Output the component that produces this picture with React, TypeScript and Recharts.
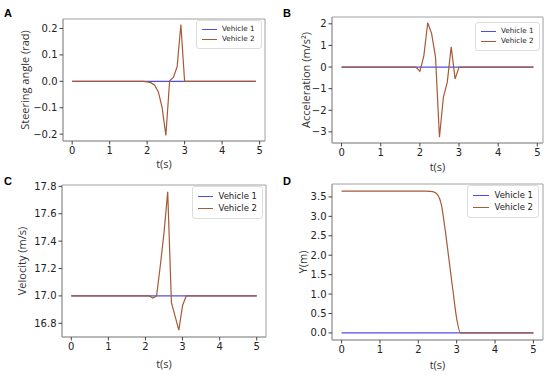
import { LineChart, Line, XAxis, YAxis, ReferenceArea, Legend } from "recharts";

const V1_COLOR = "#4f4fe6";
const V2_COLOR = "#a65a36";
const BOX_COLOR = "#a0a0a0";

// Panel A: steering angle (rad)
const tA = [0, 1.9, 2.0, 2.1, 2.2, 2.3, 2.4, 2.5, 2.6, 2.7, 2.8, 2.9, 3.0, 4.9];
const steerV1 = [0, 0, 0, 0, 0, 0, 0, 0, 0, 0, 0, 0, 0, 0];
const steerV2 = [0, 0, -0.002, -0.005, -0.015, -0.04, -0.1, -0.205, 0.002, 0.015, 0.055, 0.215, 0, 0];

// Panel B: acceleration (m/s²)
const tB = [0, 1.9, 2.0, 2.1, 2.2, 2.3, 2.4, 2.5, 2.6, 2.7, 2.8, 2.9, 3.0, 4.9];
const accV1 = [0, 0, 0, 0, 0, 0, 0, 0, 0, 0, 0, 0, 0, 0];
const accV2 = [0, 0, -0.2, 0.5, 2.05, 1.55, 0.45, -3.25, -1.4, -0.7, 0.93, -0.55, 0, 0];

// Panel C: velocity (m/s)
const tC = [0, 2.1, 2.2, 2.3, 2.4, 2.5, 2.6, 2.7, 2.8, 2.9, 3.0, 3.1, 5.0];
const velV1 = [17, 17, 17, 17, 17, 17, 17, 17, 17, 17, 17, 17, 17];
const velV2 = [17, 17, 16.985, 17.0, 17.22, 17.46, 17.76, 16.95, 16.85, 16.75, 16.93, 17.0, 17.0];

// Panel D: lateral position Y (m)
const tD = [0, 2.2, 2.3, 2.4, 2.5, 2.6, 2.7, 2.8, 2.9, 3.0, 3.1, 5.0];
const yV1 = [0, 0, 0, 0, 0, 0, 0, 0, 0, 0, 0, 0];
const yV2 = [3.65, 3.65, 3.645, 3.63, 3.56, 3.3, 2.65, 1.88, 1.11, 0.37, 0, 0];

const xTicks = [0, 1, 2, 3, 4, 5];

const rows = (t: number[], a: number[], b: number[]) =>
  t.map((x, i) => ({ t: x, v1: a[i], v2: b[i] }));

const fmt1 = (v: number) => (v < 0 ? "\u2212" : "") + Math.abs(v).toFixed(1);
const fmt0 = (v: number) => (v < 0 ? "\u2212" : "") + Math.abs(v).toFixed(0);

const tickStyle = { fontSize: 10, fill: "#222", fontFamily: "DejaVu Sans" };
const labelStyle = { fontSize: 11, fill: "#333", fontFamily: "Open Sans" };

function VehicleLegend({ fontSize, lineLen }: { fontSize: number; lineLen: number }) {
  return (
    <div
      style={{
        border: "1px solid #ddd",
        borderRadius: 3,
        background: "#fff",
        padding: "3px 5px",
        fontFamily: "DejaVu Sans",
        fontSize,
        color: "#222",
        whiteSpace: "nowrap",
        lineHeight: `${fontSize * 1.45}px`,
      }}
    >
      {[
        ["Vehicle 1", V1_COLOR],
        ["Vehicle 2", V2_COLOR],
      ].map(([name, c]) => (
        <div key={name} style={{ display: "flex", alignItems: "center" }}>
          <span style={{ display: "inline-block", width: lineLen, height: 0, borderTop: `1.3px solid ${c}`, marginRight: 5 }} />
          {name}
        </div>
      ))}
    </div>
  );
}

interface PanelProps {
  letter: string;
  left: number;
  top: number;
  width: number;
  height: number;
  plotLeft: number;
  plotTop: number;
  plotRight: number;
  plotBottom: number;
  data: { t: number; v1: number; v2: number }[];
  xDomain: [number, number];
  yDomain: [number, number];
  yTicks: number[];
  yFmt: (v: number) => string;
  yLabel: string;
  yLabelDx: number;
  xLabelOffset: number;
  legend: { left: number; top: number; width: number; fontSize: number; lineLen: number };
  curve?: "linear" | "monotoneX";
  letterPos: { x: number; y: number };
}

function Panel(p: PanelProps) {
  return (
    <div style={{ position: "absolute", left: p.left, top: p.top, width: p.width, height: p.height }}>
      <LineChart
        width={p.width}
        height={p.height}
        data={p.data}
        margin={{ top: p.plotTop, right: p.width - p.plotRight, bottom: 0, left: 0 }}
      >
        <XAxis
          dataKey="t"
          type="number"
          domain={p.xDomain}
          ticks={xTicks}
          allowDataOverflow
          height={p.height - p.plotBottom}
          tick={tickStyle}
          tickSize={3.5}
          stroke={BOX_COLOR}
          tickLine={{ stroke: "#444" }}
          label={{ value: "t(s)", position: "insideBottom", offset: p.xLabelOffset, style: labelStyle }}
        />
        <YAxis
          type="number"
          domain={p.yDomain}
          ticks={p.yTicks}
          allowDataOverflow
          width={p.plotLeft}
          tick={tickStyle}
          tickSize={3.5}
          tickFormatter={p.yFmt}
          stroke={BOX_COLOR}
          tickLine={{ stroke: "#444" }}
          label={{ value: p.yLabel, angle: -90, position: "center", dx: p.yLabelDx, style: labelStyle }}
        />
        <ReferenceArea
          x1={p.xDomain[0]}
          x2={p.xDomain[1]}
          y1={p.yDomain[0]}
          y2={p.yDomain[1]}
          fill="none"
          stroke={BOX_COLOR}
          strokeWidth={1}
          ifOverflow="visible"
        />
        <Line type={p.curve ?? "linear"} dataKey="v1" stroke={V1_COLOR} strokeWidth={1.2} dot={false} isAnimationActive={false} />
        <Line type={p.curve ?? "linear"} dataKey="v2" stroke={V2_COLOR} strokeWidth={1.2} dot={false} isAnimationActive={false} />
        <Legend
          layout="vertical"
          align="center"
          verticalAlign="middle"
          wrapperStyle={{ left: p.legend.left, top: p.legend.top, width: p.legend.width }}
          content={() => <VehicleLegend fontSize={p.legend.fontSize} lineLen={p.legend.lineLen} />}
        />
      </LineChart>
      <div
        style={{
          position: "absolute",
          left: p.letterPos.x,
          top: p.letterPos.y,
          fontFamily: "Liberation Sans",
          fontWeight: "bold",
          fontSize: 11,
          color: "#000",
          lineHeight: "11px",
        }}
      >
        {p.letter}
      </div>
    </div>
  );
}

export default function App() {
  return (
    <div style={{ position: "absolute", left: 0, top: 0, width: 550, height: 375, background: "#fff" }}>
      <Panel
        letter="A"
        left={0}
        top={0}
        width={275}
        height={185}
        plotLeft={63}
        plotTop={19}
        plotRight={265}
        plotBottom={141}
        data={rows(tA, steerV1, steerV2)}
        xDomain={[-0.245, 5.145]}
        yDomain={[-0.226, 0.236]}
        yTicks={[-0.2, -0.1, 0, 0.1, 0.2]}
        yFmt={fmt1}
        yLabel="Steering angle (rad)"
        yLabelDx={-6}
        xLabelOffset={17}
        legend={{ left: 196, top: 20, width: 66, fontSize: 7.2, lineLen: 15 }}
        letterPos={{ x: 4, y: 8 }}
      />
      <Panel
        letter="B"
        left={275}
        top={0}
        width={275}
        height={185}
        plotLeft={57}
        plotTop={17}
        plotRight={268}
        plotBottom={143}
        data={rows(tB, accV1, accV2)}
        xDomain={[-0.245, 5.145]}
        yDomain={[-3.515, 2.315]}
        yTicks={[-3, -2, -1, 0, 1, 2]}
        yFmt={fmt0}
        yLabel="Acceleration (m/s²)"
        yLabelDx={3}
        xLabelOffset={14}
        legend={{ left: 200, top: 22, width: 65, fontSize: 7.2, lineLen: 15 }}
        letterPos={{ x: 8, y: 8 }}
      />
      <Panel
        letter="C"
        left={0}
        top={170}
        width={275}
        height={205}
        plotLeft={62}
        plotTop={15}
        plotRight={266}
        plotBottom={167}
        data={rows(tC, velV1, velV2)}
        xDomain={[-0.25, 5.25]}
        yDomain={[16.7, 17.81]}
        yTicks={[16.8, 17.0, 17.2, 17.4, 17.6, 17.8]}
        yFmt={fmt1}
        yLabel="Velocity (m/s)"
        yLabelDx={-9}
        xLabelOffset={7}
        legend={{ left: 192, top: 16, width: 71, fontSize: 8.5, lineLen: 20 }}
        letterPos={{ x: 4, y: 6 }}
      />
      <Panel
        letter="D"
        left={275}
        top={170}
        width={275}
        height={205}
        plotLeft={57}
        plotTop={14}
        plotRight={268}
        plotBottom={170}
        data={rows(tD, yV1, yV2)}
        xDomain={[-0.25, 5.25]}
        yDomain={[-0.1825, 3.8325]}
        yTicks={[0, 0.5, 1, 1.5, 2, 2.5, 3, 3.5]}
        yFmt={fmt1}
        yLabel="Y(m)"
        yLabelDx={0}
        xLabelOffset={6}
        legend={{ left: 192, top: 15, width: 72, fontSize: 8.5, lineLen: 20 }}
        curve="monotoneX"
        letterPos={{ x: 8, y: 6 }}
      />
    </div>
  );
}
